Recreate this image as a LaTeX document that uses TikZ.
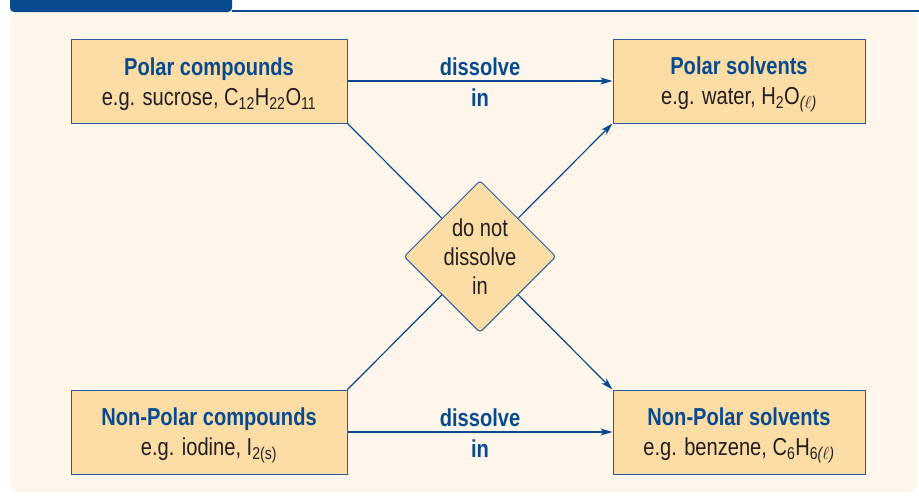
\documentclass[tikz,border=0pt]{standalone}
\usepackage{fontspec}
\setmainfont{Liberation Sans}[FakeStretch=0.82]
\usetikzlibrary{arrows.meta,calc,positioning,shapes.geometric}
\definecolor{solblue}{RGB}{8,74,143}
\definecolor{solline}{RGB}{40,92,158}
\definecolor{solfill}{RGB}{253,221,166}
\definecolor{solcream}{RGB}{254,246,234}
\definecolor{soltext}{RGB}{35,31,32}
\newcommand{\solsize}{\fontsize{24.5}{30}\selectfont}
\newcommand{\chsub}[1]{\textsubscript{#1}}
\newcommand{\boxtitle}[1]{\textcolor{solblue}{\bfseries\rule{0pt}{24pt}#1}}

\begin{document}
\begin{tikzpicture}[x=1pt,y=-1pt,font=\solsize,
    box/.style={draw=solline,fill=solfill,line width=1pt,align=center,text=soltext,minimum height=84pt,inner sep=0pt},
    lab/.style={text=solblue,font=\solsize\bfseries,inner sep=0pt},
    con/.style={draw=solblue,line width=1.2pt},
    a/.style={con,-{Stealth[length=12pt,width=7pt,inset=3pt]}}]
    \useasboundingbox (0,0) rectangle (919,496);
    % panel and header bar
    \fill[solcream,rounded corners=9pt] (10,12) rectangle (917,492);
    \fill[solblue,rounded corners=4pt] (10,-8) rectangle (232,12);
    \draw[solblue,line width=2pt] (232,11) -- (919,11);
    % boxes
    \node[box,minimum width=276pt] (pc) at (209,81) {\boxtitle{Polar compounds}\\e.g. sucrose, C\chsub{12}H\chsub{22}O\chsub{11}};
    \node[box,minimum width=252pt,right=265pt of pc] (ps) {\boxtitle{Polar solvents}\\e.g. water, H\chsub{2}O\chsub{\itshape(\ensuremath{\ell})}};
    \node[box,minimum width=276pt,below=266pt of pc] (npc) {\boxtitle{Non-Polar compounds}\\e.g. iodine, I\chsub{2(s)}};
    \node[box,minimum width=252pt,below=266pt of ps] (nps) {\boxtitle{Non-Polar solvents}\\e.g. benzene, C\chsub{6}H\chsub{6\itshape(\ensuremath{\ell})}};
    \node[diamond,draw=solline,fill=solfill,line width=1pt,minimum size=152pt,inner sep=0pt,rounded corners=3pt] (dnd) at ($(pc.south east)!.5!(nps.north west)$) {};
    \node[align=center,text=soltext,font=\fontsize{24.5}{29}\selectfont] (dndtxt) at (dnd) {do not\\dissolve\\in};
    % connectors
    \draw[a] (pc) -- node[lab,above=5pt]{dissolve} node[lab,below=7pt]{in} (ps);
    \draw[a] (npc) -- node[lab,above=5pt]{dissolve} node[lab,below=7pt]{in} (nps);
    \draw[con] (pc.south east) -- (dnd);
    \draw[con] (npc.north east) -- (dnd);
    \draw[a] (dnd) -- (ps.south west);
    \draw[a] (dnd) -- (nps.north west);
\end{tikzpicture}
\end{document}
